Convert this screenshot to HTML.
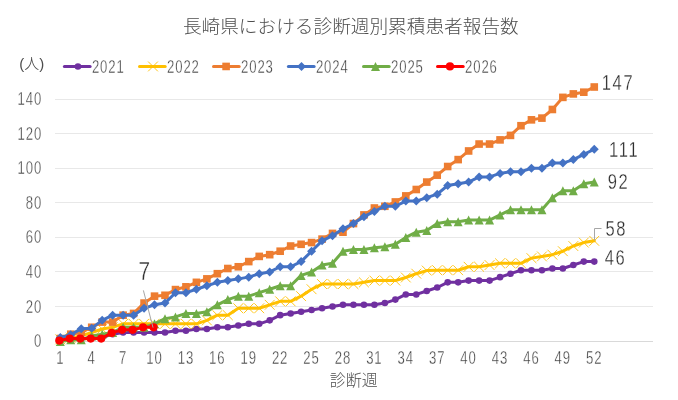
<!DOCTYPE html>
<html lang="ja">
<head>
<meta charset="utf-8">
<title>長崎県における診断週別累積患者報告数</title>
<style>
html,body{margin:0;padding:0;background:#fff;}
body{width:678px;height:400px;overflow:hidden;}
svg{display:block;}
text{font-family:"Liberation Sans","Noto Sans CJK JP",sans-serif;}
text.jp{font-family:"Liberation Sans","Noto Sans CJK JP",sans-serif;}
</style>
</head>
<body>
<svg width="678" height="400" viewBox="0 0 678 400">
<rect width="678" height="400" fill="#fff"/>
<g fill="#E8E8E8" shape-rendering="crispEdges">
<rect x="55" y="306" width="598" height="1"/>
<rect x="55" y="271" width="598" height="1"/>
<rect x="55" y="237" width="598" height="1"/>
<rect x="55" y="202" width="598" height="1"/>
<rect x="55" y="168" width="598" height="1"/>
<rect x="55" y="133" width="598" height="1"/>
<rect x="55" y="99" width="598" height="1"/>
<rect x="55" y="341" width="598" height="1" fill="#D9D9D9"/>
</g>
<text class="jp" x="350.8" y="32.6" font-size="18.67" font-weight="300" text-anchor="middle" fill="#4d4d4d">長崎県における診断週別累積患者報告数</text>
<text class="jp" x="31.8" y="68.8" font-size="15" font-weight="300" text-anchor="middle" fill="#4d4d4d">(人)</text>
<text class="n" transform="translate(42.10 347.10) scale(0.73 1)" font-size="18" letter-spacing="1.23" text-anchor="end" fill="#404040" stroke="#fff" stroke-width="0.35" paint-order="fill stroke">0</text>
<text class="n" transform="translate(42.10 312.53) scale(0.73 1)" font-size="18" letter-spacing="1.23" text-anchor="end" fill="#404040" stroke="#fff" stroke-width="0.35" paint-order="fill stroke">20</text>
<text class="n" transform="translate(42.10 277.96) scale(0.73 1)" font-size="18" letter-spacing="1.23" text-anchor="end" fill="#404040" stroke="#fff" stroke-width="0.35" paint-order="fill stroke">40</text>
<text class="n" transform="translate(42.10 243.39) scale(0.73 1)" font-size="18" letter-spacing="1.23" text-anchor="end" fill="#404040" stroke="#fff" stroke-width="0.35" paint-order="fill stroke">60</text>
<text class="n" transform="translate(42.10 208.81) scale(0.73 1)" font-size="18" letter-spacing="1.23" text-anchor="end" fill="#404040" stroke="#fff" stroke-width="0.35" paint-order="fill stroke">80</text>
<text class="n" transform="translate(42.10 174.24) scale(0.73 1)" font-size="18" letter-spacing="1.23" text-anchor="end" fill="#404040" stroke="#fff" stroke-width="0.35" paint-order="fill stroke">100</text>
<text class="n" transform="translate(42.10 139.67) scale(0.73 1)" font-size="18" letter-spacing="1.23" text-anchor="end" fill="#404040" stroke="#fff" stroke-width="0.35" paint-order="fill stroke">120</text>
<text class="n" transform="translate(42.10 105.10) scale(0.73 1)" font-size="18" letter-spacing="1.23" text-anchor="end" fill="#404040" stroke="#fff" stroke-width="0.35" paint-order="fill stroke">140</text>
<text class="n" transform="translate(60.25 363.60) scale(0.73 1)" font-size="18" letter-spacing="1.23" text-anchor="middle" fill="#404040" stroke="#fff" stroke-width="0.35" paint-order="fill stroke">1</text>
<text class="n" transform="translate(91.66 363.60) scale(0.73 1)" font-size="18" letter-spacing="1.23" text-anchor="middle" fill="#404040" stroke="#fff" stroke-width="0.35" paint-order="fill stroke">4</text>
<text class="n" transform="translate(123.07 363.60) scale(0.73 1)" font-size="18" letter-spacing="1.23" text-anchor="middle" fill="#404040" stroke="#fff" stroke-width="0.35" paint-order="fill stroke">7</text>
<text class="n" transform="translate(154.48 363.60) scale(0.73 1)" font-size="18" letter-spacing="1.23" text-anchor="middle" fill="#404040" stroke="#fff" stroke-width="0.35" paint-order="fill stroke">10</text>
<text class="n" transform="translate(185.89 363.60) scale(0.73 1)" font-size="18" letter-spacing="1.23" text-anchor="middle" fill="#404040" stroke="#fff" stroke-width="0.35" paint-order="fill stroke">13</text>
<text class="n" transform="translate(217.30 363.60) scale(0.73 1)" font-size="18" letter-spacing="1.23" text-anchor="middle" fill="#404040" stroke="#fff" stroke-width="0.35" paint-order="fill stroke">16</text>
<text class="n" transform="translate(248.71 363.60) scale(0.73 1)" font-size="18" letter-spacing="1.23" text-anchor="middle" fill="#404040" stroke="#fff" stroke-width="0.35" paint-order="fill stroke">19</text>
<text class="n" transform="translate(280.12 363.60) scale(0.73 1)" font-size="18" letter-spacing="1.23" text-anchor="middle" fill="#404040" stroke="#fff" stroke-width="0.35" paint-order="fill stroke">22</text>
<text class="n" transform="translate(311.53 363.60) scale(0.73 1)" font-size="18" letter-spacing="1.23" text-anchor="middle" fill="#404040" stroke="#fff" stroke-width="0.35" paint-order="fill stroke">25</text>
<text class="n" transform="translate(342.94 363.60) scale(0.73 1)" font-size="18" letter-spacing="1.23" text-anchor="middle" fill="#404040" stroke="#fff" stroke-width="0.35" paint-order="fill stroke">28</text>
<text class="n" transform="translate(374.35 363.60) scale(0.73 1)" font-size="18" letter-spacing="1.23" text-anchor="middle" fill="#404040" stroke="#fff" stroke-width="0.35" paint-order="fill stroke">31</text>
<text class="n" transform="translate(405.76 363.60) scale(0.73 1)" font-size="18" letter-spacing="1.23" text-anchor="middle" fill="#404040" stroke="#fff" stroke-width="0.35" paint-order="fill stroke">34</text>
<text class="n" transform="translate(437.17 363.60) scale(0.73 1)" font-size="18" letter-spacing="1.23" text-anchor="middle" fill="#404040" stroke="#fff" stroke-width="0.35" paint-order="fill stroke">37</text>
<text class="n" transform="translate(468.58 363.60) scale(0.73 1)" font-size="18" letter-spacing="1.23" text-anchor="middle" fill="#404040" stroke="#fff" stroke-width="0.35" paint-order="fill stroke">40</text>
<text class="n" transform="translate(499.99 363.60) scale(0.73 1)" font-size="18" letter-spacing="1.23" text-anchor="middle" fill="#404040" stroke="#fff" stroke-width="0.35" paint-order="fill stroke">43</text>
<text class="n" transform="translate(531.40 363.60) scale(0.73 1)" font-size="18" letter-spacing="1.23" text-anchor="middle" fill="#404040" stroke="#fff" stroke-width="0.35" paint-order="fill stroke">46</text>
<text class="n" transform="translate(562.81 363.60) scale(0.73 1)" font-size="18" letter-spacing="1.23" text-anchor="middle" fill="#404040" stroke="#fff" stroke-width="0.35" paint-order="fill stroke">49</text>
<text class="n" transform="translate(594.22 363.60) scale(0.73 1)" font-size="18" letter-spacing="1.23" text-anchor="middle" fill="#404040" stroke="#fff" stroke-width="0.35" paint-order="fill stroke">52</text>
<text class="jp" x="353.8" y="386" font-size="16" font-weight="300" text-anchor="middle" fill="#4d4d4d">診断週</text>
<line x1="64.40" y1="66.45" x2="90.10" y2="66.45" stroke="#7030A0" stroke-width="3.0" stroke-linecap="round"/>
<circle cx="77.95" cy="66.45" r="3.30" fill="#7030A0"/>
<text class="n" transform="translate(91.90 72.60) scale(0.73 1)" font-size="18" letter-spacing="1.23" text-anchor="start" fill="#404040" stroke="#fff" stroke-width="0.35" paint-order="fill stroke">2021</text>
<line x1="139.50" y1="66.45" x2="165.20" y2="66.45" stroke="#FFC000" stroke-width="3.0" stroke-linecap="round"/>
<path d="M148.10 61.55L157.90 71.35M148.10 71.35L157.90 61.55" stroke="#FFC000" stroke-width="0.9" fill="none"/>
<text class="n" transform="translate(167.00 72.60) scale(0.73 1)" font-size="18" letter-spacing="1.23" text-anchor="start" fill="#404040" stroke="#fff" stroke-width="0.35" paint-order="fill stroke">2022</text>
<line x1="213.50" y1="66.45" x2="239.20" y2="66.45" stroke="#ED7D31" stroke-width="3.0" stroke-linecap="round"/>
<rect x="222.30" y="62.65" width="7.60" height="7.60" fill="#ED7D31"/>
<text class="n" transform="translate(241.00 72.60) scale(0.73 1)" font-size="18" letter-spacing="1.23" text-anchor="start" fill="#404040" stroke="#fff" stroke-width="0.35" paint-order="fill stroke">2023</text>
<line x1="288.40" y1="66.45" x2="314.10" y2="66.45" stroke="#4472C4" stroke-width="3.0" stroke-linecap="round"/>
<path d="M301.50 61.95L306.00 66.45L301.50 70.95L297.00 66.45Z" fill="#4472C4"/>
<text class="n" transform="translate(315.90 72.60) scale(0.73 1)" font-size="18" letter-spacing="1.23" text-anchor="start" fill="#404040" stroke="#fff" stroke-width="0.35" paint-order="fill stroke">2024</text>
<line x1="363.50" y1="66.45" x2="389.20" y2="66.45" stroke="#70AD47" stroke-width="3.0" stroke-linecap="round"/>
<path d="M375.50 61.95L380.00 70.95L371.00 70.95Z" fill="#70AD47"/>
<text class="n" transform="translate(391.00 72.60) scale(0.73 1)" font-size="18" letter-spacing="1.23" text-anchor="start" fill="#404040" stroke="#fff" stroke-width="0.35" paint-order="fill stroke">2025</text>
<line x1="437.50" y1="66.45" x2="463.20" y2="66.45" stroke="#FF0000" stroke-width="3.0" stroke-linecap="round"/>
<circle cx="449.95" cy="66.45" r="4.10" fill="#FF0000"/>
<text class="n" transform="translate(465.00 72.60) scale(0.73 1)" font-size="18" letter-spacing="1.23" text-anchor="start" fill="#404040" stroke="#fff" stroke-width="0.35" paint-order="fill stroke">2026</text>
<g><polyline points="60.30,341.10 70.77,339.37 81.24,339.37 91.71,337.64 102.18,337.64 112.65,334.19 123.12,332.46 133.59,332.46 144.06,332.46 154.53,332.46 165.00,332.46 175.47,330.73 185.94,330.73 196.41,329.00 206.88,329.00 217.35,327.27 227.82,327.27 238.29,325.54 248.76,323.81 259.23,323.81 269.70,320.36 280.17,315.17 290.64,313.44 301.11,311.71 311.58,309.99 322.05,308.26 332.52,306.53 342.99,304.80 353.46,304.80 363.93,304.80 374.40,304.80 384.87,303.07 395.34,299.61 405.81,294.43 416.28,294.43 426.75,290.97 437.22,287.51 447.69,282.33 458.16,282.33 468.63,280.60 479.10,280.60 489.57,280.60 500.04,277.14 510.51,273.69 520.98,270.23 531.45,270.23 541.92,270.23 552.39,268.50 562.86,268.50 573.33,265.04 583.80,261.59 594.27,261.59" fill="none" stroke="#7030A0" stroke-width="3.0" stroke-linejoin="round" stroke-linecap="round"/>
<circle cx="60.30" cy="341.10" r="3.30" fill="#7030A0"/>
<circle cx="70.77" cy="339.37" r="3.30" fill="#7030A0"/>
<circle cx="81.24" cy="339.37" r="3.30" fill="#7030A0"/>
<circle cx="91.71" cy="337.64" r="3.30" fill="#7030A0"/>
<circle cx="102.18" cy="337.64" r="3.30" fill="#7030A0"/>
<circle cx="112.65" cy="334.19" r="3.30" fill="#7030A0"/>
<circle cx="123.12" cy="332.46" r="3.30" fill="#7030A0"/>
<circle cx="133.59" cy="332.46" r="3.30" fill="#7030A0"/>
<circle cx="144.06" cy="332.46" r="3.30" fill="#7030A0"/>
<circle cx="154.53" cy="332.46" r="3.30" fill="#7030A0"/>
<circle cx="165.00" cy="332.46" r="3.30" fill="#7030A0"/>
<circle cx="175.47" cy="330.73" r="3.30" fill="#7030A0"/>
<circle cx="185.94" cy="330.73" r="3.30" fill="#7030A0"/>
<circle cx="196.41" cy="329.00" r="3.30" fill="#7030A0"/>
<circle cx="206.88" cy="329.00" r="3.30" fill="#7030A0"/>
<circle cx="217.35" cy="327.27" r="3.30" fill="#7030A0"/>
<circle cx="227.82" cy="327.27" r="3.30" fill="#7030A0"/>
<circle cx="238.29" cy="325.54" r="3.30" fill="#7030A0"/>
<circle cx="248.76" cy="323.81" r="3.30" fill="#7030A0"/>
<circle cx="259.23" cy="323.81" r="3.30" fill="#7030A0"/>
<circle cx="269.70" cy="320.36" r="3.30" fill="#7030A0"/>
<circle cx="280.17" cy="315.17" r="3.30" fill="#7030A0"/>
<circle cx="290.64" cy="313.44" r="3.30" fill="#7030A0"/>
<circle cx="301.11" cy="311.71" r="3.30" fill="#7030A0"/>
<circle cx="311.58" cy="309.99" r="3.30" fill="#7030A0"/>
<circle cx="322.05" cy="308.26" r="3.30" fill="#7030A0"/>
<circle cx="332.52" cy="306.53" r="3.30" fill="#7030A0"/>
<circle cx="342.99" cy="304.80" r="3.30" fill="#7030A0"/>
<circle cx="353.46" cy="304.80" r="3.30" fill="#7030A0"/>
<circle cx="363.93" cy="304.80" r="3.30" fill="#7030A0"/>
<circle cx="374.40" cy="304.80" r="3.30" fill="#7030A0"/>
<circle cx="384.87" cy="303.07" r="3.30" fill="#7030A0"/>
<circle cx="395.34" cy="299.61" r="3.30" fill="#7030A0"/>
<circle cx="405.81" cy="294.43" r="3.30" fill="#7030A0"/>
<circle cx="416.28" cy="294.43" r="3.30" fill="#7030A0"/>
<circle cx="426.75" cy="290.97" r="3.30" fill="#7030A0"/>
<circle cx="437.22" cy="287.51" r="3.30" fill="#7030A0"/>
<circle cx="447.69" cy="282.33" r="3.30" fill="#7030A0"/>
<circle cx="458.16" cy="282.33" r="3.30" fill="#7030A0"/>
<circle cx="468.63" cy="280.60" r="3.30" fill="#7030A0"/>
<circle cx="479.10" cy="280.60" r="3.30" fill="#7030A0"/>
<circle cx="489.57" cy="280.60" r="3.30" fill="#7030A0"/>
<circle cx="500.04" cy="277.14" r="3.30" fill="#7030A0"/>
<circle cx="510.51" cy="273.69" r="3.30" fill="#7030A0"/>
<circle cx="520.98" cy="270.23" r="3.30" fill="#7030A0"/>
<circle cx="531.45" cy="270.23" r="3.30" fill="#7030A0"/>
<circle cx="541.92" cy="270.23" r="3.30" fill="#7030A0"/>
<circle cx="552.39" cy="268.50" r="3.30" fill="#7030A0"/>
<circle cx="562.86" cy="268.50" r="3.30" fill="#7030A0"/>
<circle cx="573.33" cy="265.04" r="3.30" fill="#7030A0"/>
<circle cx="583.80" cy="261.59" r="3.30" fill="#7030A0"/>
<circle cx="594.27" cy="261.59" r="3.30" fill="#7030A0"/>
</g>
<g><polyline points="60.30,339.37 70.77,337.64 81.24,335.91 91.71,332.46 102.18,329.00 112.65,327.27 123.12,323.81 133.59,323.81 144.06,323.81 154.53,323.81 165.00,323.81 175.47,323.81 185.94,323.81 196.41,323.81 206.88,320.36 217.35,315.17 227.82,315.17 238.29,308.26 248.76,308.26 259.23,308.26 269.70,304.80 280.17,301.34 290.64,301.34 301.11,296.16 311.58,289.24 322.05,284.06 332.52,284.06 342.99,284.06 353.46,284.06 363.93,282.33 374.40,280.60 384.87,280.60 395.34,280.60 405.81,277.49 416.28,273.69 426.75,270.57 437.22,270.23 447.69,270.23 458.16,270.23 468.63,266.77 479.10,266.77 489.57,265.04 500.04,263.31 510.51,263.31 520.98,263.31 531.45,258.13 541.92,256.40 552.39,254.67 562.86,251.21 573.33,246.03 583.80,242.57 594.27,240.84" fill="none" stroke="#FFC000" stroke-width="3.0" stroke-linejoin="round" stroke-linecap="round"/>
<path d="M55.40 334.47L65.20 344.27M55.40 344.27L65.20 334.47" stroke="#FFC000" stroke-width="0.9" fill="none"/>
<path d="M65.87 332.74L75.67 342.54M65.87 342.54L75.67 332.74" stroke="#FFC000" stroke-width="0.9" fill="none"/>
<path d="M76.34 331.01L86.14 340.81M76.34 340.81L86.14 331.01" stroke="#FFC000" stroke-width="0.9" fill="none"/>
<path d="M86.81 327.56L96.61 337.36M86.81 337.36L96.61 327.56" stroke="#FFC000" stroke-width="0.9" fill="none"/>
<path d="M97.28 324.10L107.08 333.90M97.28 333.90L107.08 324.10" stroke="#FFC000" stroke-width="0.9" fill="none"/>
<path d="M107.75 322.37L117.55 332.17M107.75 332.17L117.55 322.37" stroke="#FFC000" stroke-width="0.9" fill="none"/>
<path d="M118.22 318.91L128.02 328.71M118.22 328.71L128.02 318.91" stroke="#FFC000" stroke-width="0.9" fill="none"/>
<path d="M128.69 318.91L138.49 328.71M128.69 328.71L138.49 318.91" stroke="#FFC000" stroke-width="0.9" fill="none"/>
<path d="M139.16 318.91L148.96 328.71M139.16 328.71L148.96 318.91" stroke="#FFC000" stroke-width="0.9" fill="none"/>
<path d="M149.63 318.91L159.43 328.71M149.63 328.71L159.43 318.91" stroke="#FFC000" stroke-width="0.9" fill="none"/>
<path d="M160.10 318.91L169.90 328.71M160.10 328.71L169.90 318.91" stroke="#FFC000" stroke-width="0.9" fill="none"/>
<path d="M170.57 318.91L180.37 328.71M170.57 328.71L180.37 318.91" stroke="#FFC000" stroke-width="0.9" fill="none"/>
<path d="M181.04 318.91L190.84 328.71M181.04 328.71L190.84 318.91" stroke="#FFC000" stroke-width="0.9" fill="none"/>
<path d="M191.51 318.91L201.31 328.71M191.51 328.71L201.31 318.91" stroke="#FFC000" stroke-width="0.9" fill="none"/>
<path d="M201.98 315.46L211.78 325.26M201.98 325.26L211.78 315.46" stroke="#FFC000" stroke-width="0.9" fill="none"/>
<path d="M212.45 310.27L222.25 320.07M212.45 320.07L222.25 310.27" stroke="#FFC000" stroke-width="0.9" fill="none"/>
<path d="M222.92 310.27L232.72 320.07M222.92 320.07L232.72 310.27" stroke="#FFC000" stroke-width="0.9" fill="none"/>
<path d="M233.39 303.36L243.19 313.16M233.39 313.16L243.19 303.36" stroke="#FFC000" stroke-width="0.9" fill="none"/>
<path d="M243.86 303.36L253.66 313.16M243.86 313.16L253.66 303.36" stroke="#FFC000" stroke-width="0.9" fill="none"/>
<path d="M254.33 303.36L264.13 313.16M254.33 313.16L264.13 303.36" stroke="#FFC000" stroke-width="0.9" fill="none"/>
<path d="M264.80 299.90L274.60 309.70M264.80 309.70L274.60 299.90" stroke="#FFC000" stroke-width="0.9" fill="none"/>
<path d="M275.27 296.44L285.07 306.24M275.27 306.24L285.07 296.44" stroke="#FFC000" stroke-width="0.9" fill="none"/>
<path d="M285.74 296.44L295.54 306.24M285.74 306.24L295.54 296.44" stroke="#FFC000" stroke-width="0.9" fill="none"/>
<path d="M296.21 291.26L306.01 301.06M296.21 301.06L306.01 291.26" stroke="#FFC000" stroke-width="0.9" fill="none"/>
<path d="M306.68 284.34L316.48 294.14M306.68 294.14L316.48 284.34" stroke="#FFC000" stroke-width="0.9" fill="none"/>
<path d="M317.15 279.16L326.95 288.96M317.15 288.96L326.95 279.16" stroke="#FFC000" stroke-width="0.9" fill="none"/>
<path d="M327.62 279.16L337.42 288.96M327.62 288.96L337.42 279.16" stroke="#FFC000" stroke-width="0.9" fill="none"/>
<path d="M338.09 279.16L347.89 288.96M338.09 288.96L347.89 279.16" stroke="#FFC000" stroke-width="0.9" fill="none"/>
<path d="M348.56 279.16L358.36 288.96M348.56 288.96L358.36 279.16" stroke="#FFC000" stroke-width="0.9" fill="none"/>
<path d="M359.03 277.43L368.83 287.23M359.03 287.23L368.83 277.43" stroke="#FFC000" stroke-width="0.9" fill="none"/>
<path d="M369.50 275.70L379.30 285.50M369.50 285.50L379.30 275.70" stroke="#FFC000" stroke-width="0.9" fill="none"/>
<path d="M379.97 275.70L389.77 285.50M379.97 285.50L389.77 275.70" stroke="#FFC000" stroke-width="0.9" fill="none"/>
<path d="M390.44 275.70L400.24 285.50M390.44 285.50L400.24 275.70" stroke="#FFC000" stroke-width="0.9" fill="none"/>
<path d="M400.91 272.59L410.71 282.39M400.91 282.39L410.71 272.59" stroke="#FFC000" stroke-width="0.9" fill="none"/>
<path d="M411.38 268.79L421.18 278.59M411.38 278.59L421.18 268.79" stroke="#FFC000" stroke-width="0.9" fill="none"/>
<path d="M421.85 265.67L431.65 275.47M421.85 275.47L431.65 265.67" stroke="#FFC000" stroke-width="0.9" fill="none"/>
<path d="M432.32 265.33L442.12 275.13M432.32 275.13L442.12 265.33" stroke="#FFC000" stroke-width="0.9" fill="none"/>
<path d="M442.79 265.33L452.59 275.13M442.79 275.13L452.59 265.33" stroke="#FFC000" stroke-width="0.9" fill="none"/>
<path d="M453.26 265.33L463.06 275.13M453.26 275.13L463.06 265.33" stroke="#FFC000" stroke-width="0.9" fill="none"/>
<path d="M463.73 261.87L473.53 271.67M463.73 271.67L473.53 261.87" stroke="#FFC000" stroke-width="0.9" fill="none"/>
<path d="M474.20 261.87L484.00 271.67M474.20 271.67L484.00 261.87" stroke="#FFC000" stroke-width="0.9" fill="none"/>
<path d="M484.67 260.14L494.47 269.94M484.67 269.94L494.47 260.14" stroke="#FFC000" stroke-width="0.9" fill="none"/>
<path d="M495.14 258.41L504.94 268.21M495.14 268.21L504.94 258.41" stroke="#FFC000" stroke-width="0.9" fill="none"/>
<path d="M505.61 258.41L515.41 268.21M505.61 268.21L515.41 258.41" stroke="#FFC000" stroke-width="0.9" fill="none"/>
<path d="M516.08 258.41L525.88 268.21M516.08 268.21L525.88 258.41" stroke="#FFC000" stroke-width="0.9" fill="none"/>
<path d="M526.55 253.23L536.35 263.03M526.55 263.03L536.35 253.23" stroke="#FFC000" stroke-width="0.9" fill="none"/>
<path d="M537.02 251.50L546.82 261.30M537.02 261.30L546.82 251.50" stroke="#FFC000" stroke-width="0.9" fill="none"/>
<path d="M547.49 249.77L557.29 259.57M547.49 259.57L557.29 249.77" stroke="#FFC000" stroke-width="0.9" fill="none"/>
<path d="M557.96 246.31L567.76 256.11M557.96 256.11L567.76 246.31" stroke="#FFC000" stroke-width="0.9" fill="none"/>
<path d="M568.43 241.13L578.23 250.93M568.43 250.93L578.23 241.13" stroke="#FFC000" stroke-width="0.9" fill="none"/>
<path d="M578.90 237.67L588.70 247.47M578.90 247.47L588.70 237.67" stroke="#FFC000" stroke-width="0.9" fill="none"/>
<path d="M589.37 235.94L599.17 245.74M589.37 245.74L599.17 235.94" stroke="#FFC000" stroke-width="0.9" fill="none"/>
</g>
<g><polyline points="60.30,338.51 70.77,334.19 81.24,332.46 91.71,327.27 102.18,322.09 112.65,322.09 123.12,315.17 133.59,313.44 144.06,303.07 154.53,296.16 165.00,295.29 175.47,289.59 185.94,286.82 196.41,282.33 206.88,278.87 217.35,273.69 227.82,268.50 238.29,266.77 248.76,261.59 259.23,256.40 269.70,254.67 280.17,251.21 290.64,246.03 301.11,244.30 311.58,242.57 322.05,239.11 332.52,233.41 342.99,232.20 353.46,223.56 363.93,214.91 374.40,208.00 384.87,206.27 395.34,201.95 405.81,195.90 416.28,189.50 426.75,182.07 437.22,175.16 447.69,166.51 458.16,159.60 468.63,150.96 479.10,144.04 489.57,144.04 500.04,139.89 510.51,135.40 520.98,125.72 531.45,119.84 541.92,118.11 552.39,109.47 562.86,97.37 573.33,93.91 583.80,92.19 594.27,87.00" fill="none" stroke="#ED7D31" stroke-width="3.0" stroke-linejoin="round" stroke-linecap="round"/>
<rect x="56.50" y="334.71" width="7.60" height="7.60" fill="#ED7D31"/>
<rect x="66.97" y="330.39" width="7.60" height="7.60" fill="#ED7D31"/>
<rect x="77.44" y="328.66" width="7.60" height="7.60" fill="#ED7D31"/>
<rect x="87.91" y="323.47" width="7.60" height="7.60" fill="#ED7D31"/>
<rect x="98.38" y="318.29" width="7.60" height="7.60" fill="#ED7D31"/>
<rect x="108.85" y="318.29" width="7.60" height="7.60" fill="#ED7D31"/>
<rect x="119.32" y="311.37" width="7.60" height="7.60" fill="#ED7D31"/>
<rect x="129.79" y="309.64" width="7.60" height="7.60" fill="#ED7D31"/>
<rect x="140.26" y="299.27" width="7.60" height="7.60" fill="#ED7D31"/>
<rect x="150.73" y="292.36" width="7.60" height="7.60" fill="#ED7D31"/>
<rect x="161.20" y="291.49" width="7.60" height="7.60" fill="#ED7D31"/>
<rect x="171.67" y="285.79" width="7.60" height="7.60" fill="#ED7D31"/>
<rect x="182.14" y="283.02" width="7.60" height="7.60" fill="#ED7D31"/>
<rect x="192.61" y="278.53" width="7.60" height="7.60" fill="#ED7D31"/>
<rect x="203.08" y="275.07" width="7.60" height="7.60" fill="#ED7D31"/>
<rect x="213.55" y="269.89" width="7.60" height="7.60" fill="#ED7D31"/>
<rect x="224.02" y="264.70" width="7.60" height="7.60" fill="#ED7D31"/>
<rect x="234.49" y="262.97" width="7.60" height="7.60" fill="#ED7D31"/>
<rect x="244.96" y="257.79" width="7.60" height="7.60" fill="#ED7D31"/>
<rect x="255.43" y="252.60" width="7.60" height="7.60" fill="#ED7D31"/>
<rect x="265.90" y="250.87" width="7.60" height="7.60" fill="#ED7D31"/>
<rect x="276.37" y="247.41" width="7.60" height="7.60" fill="#ED7D31"/>
<rect x="286.84" y="242.23" width="7.60" height="7.60" fill="#ED7D31"/>
<rect x="297.31" y="240.50" width="7.60" height="7.60" fill="#ED7D31"/>
<rect x="307.78" y="238.77" width="7.60" height="7.60" fill="#ED7D31"/>
<rect x="318.25" y="235.31" width="7.60" height="7.60" fill="#ED7D31"/>
<rect x="328.72" y="229.61" width="7.60" height="7.60" fill="#ED7D31"/>
<rect x="339.19" y="228.40" width="7.60" height="7.60" fill="#ED7D31"/>
<rect x="349.66" y="219.76" width="7.60" height="7.60" fill="#ED7D31"/>
<rect x="360.13" y="211.11" width="7.60" height="7.60" fill="#ED7D31"/>
<rect x="370.60" y="204.20" width="7.60" height="7.60" fill="#ED7D31"/>
<rect x="381.07" y="202.47" width="7.60" height="7.60" fill="#ED7D31"/>
<rect x="391.54" y="198.15" width="7.60" height="7.60" fill="#ED7D31"/>
<rect x="402.01" y="192.10" width="7.60" height="7.60" fill="#ED7D31"/>
<rect x="412.48" y="185.70" width="7.60" height="7.60" fill="#ED7D31"/>
<rect x="422.95" y="178.27" width="7.60" height="7.60" fill="#ED7D31"/>
<rect x="433.42" y="171.36" width="7.60" height="7.60" fill="#ED7D31"/>
<rect x="443.89" y="162.71" width="7.60" height="7.60" fill="#ED7D31"/>
<rect x="454.36" y="155.80" width="7.60" height="7.60" fill="#ED7D31"/>
<rect x="464.83" y="147.16" width="7.60" height="7.60" fill="#ED7D31"/>
<rect x="475.30" y="140.24" width="7.60" height="7.60" fill="#ED7D31"/>
<rect x="485.77" y="140.24" width="7.60" height="7.60" fill="#ED7D31"/>
<rect x="496.24" y="136.09" width="7.60" height="7.60" fill="#ED7D31"/>
<rect x="506.71" y="131.60" width="7.60" height="7.60" fill="#ED7D31"/>
<rect x="517.18" y="121.92" width="7.60" height="7.60" fill="#ED7D31"/>
<rect x="527.65" y="116.04" width="7.60" height="7.60" fill="#ED7D31"/>
<rect x="538.12" y="114.31" width="7.60" height="7.60" fill="#ED7D31"/>
<rect x="548.59" y="105.67" width="7.60" height="7.60" fill="#ED7D31"/>
<rect x="559.06" y="93.57" width="7.60" height="7.60" fill="#ED7D31"/>
<rect x="569.53" y="90.11" width="7.60" height="7.60" fill="#ED7D31"/>
<rect x="580.00" y="88.39" width="7.60" height="7.60" fill="#ED7D31"/>
<rect x="590.47" y="83.20" width="7.60" height="7.60" fill="#ED7D31"/>
</g>
<g><polyline points="60.30,337.47 70.77,334.70 81.24,328.65 91.71,328.14 102.18,320.36 112.65,315.17 123.12,315.17 133.59,315.17 144.06,308.26 154.53,304.80 165.00,303.07 175.47,292.70 185.94,292.70 196.41,289.24 206.88,285.79 217.35,282.33 227.82,280.60 238.29,278.87 248.76,277.14 259.23,273.69 269.70,271.96 280.17,266.77 290.64,266.77 301.11,261.59 311.58,251.21 322.05,240.84 332.52,235.66 342.99,228.74 353.46,223.56 363.93,216.64 374.40,211.46 384.87,206.27 395.34,206.27 405.81,201.09 416.28,201.09 426.75,197.63 437.22,194.17 447.69,185.53 458.16,183.80 468.63,182.07 479.10,176.89 489.57,176.89 500.04,173.43 510.51,171.70 520.98,171.70 531.45,168.24 541.92,168.24 552.39,163.06 562.86,163.06 573.33,159.60 583.80,154.41 594.27,149.23" fill="none" stroke="#4472C4" stroke-width="3.0" stroke-linejoin="round" stroke-linecap="round"/>
<path d="M60.30 332.97L64.80 337.47L60.30 341.97L55.80 337.47Z" fill="#4472C4"/>
<path d="M70.77 330.20L75.27 334.70L70.77 339.20L66.27 334.70Z" fill="#4472C4"/>
<path d="M81.24 324.15L85.74 328.65L81.24 333.15L76.74 328.65Z" fill="#4472C4"/>
<path d="M91.71 323.64L96.21 328.14L91.71 332.64L87.21 328.14Z" fill="#4472C4"/>
<path d="M102.18 315.86L106.68 320.36L102.18 324.86L97.68 320.36Z" fill="#4472C4"/>
<path d="M112.65 310.67L117.15 315.17L112.65 319.67L108.15 315.17Z" fill="#4472C4"/>
<path d="M123.12 310.67L127.62 315.17L123.12 319.67L118.62 315.17Z" fill="#4472C4"/>
<path d="M133.59 310.67L138.09 315.17L133.59 319.67L129.09 315.17Z" fill="#4472C4"/>
<path d="M144.06 303.76L148.56 308.26L144.06 312.76L139.56 308.26Z" fill="#4472C4"/>
<path d="M154.53 300.30L159.03 304.80L154.53 309.30L150.03 304.80Z" fill="#4472C4"/>
<path d="M165.00 298.57L169.50 303.07L165.00 307.57L160.50 303.07Z" fill="#4472C4"/>
<path d="M175.47 288.20L179.97 292.70L175.47 297.20L170.97 292.70Z" fill="#4472C4"/>
<path d="M185.94 288.20L190.44 292.70L185.94 297.20L181.44 292.70Z" fill="#4472C4"/>
<path d="M196.41 284.74L200.91 289.24L196.41 293.74L191.91 289.24Z" fill="#4472C4"/>
<path d="M206.88 281.29L211.38 285.79L206.88 290.29L202.38 285.79Z" fill="#4472C4"/>
<path d="M217.35 277.83L221.85 282.33L217.35 286.83L212.85 282.33Z" fill="#4472C4"/>
<path d="M227.82 276.10L232.32 280.60L227.82 285.10L223.32 280.60Z" fill="#4472C4"/>
<path d="M238.29 274.37L242.79 278.87L238.29 283.37L233.79 278.87Z" fill="#4472C4"/>
<path d="M248.76 272.64L253.26 277.14L248.76 281.64L244.26 277.14Z" fill="#4472C4"/>
<path d="M259.23 269.19L263.73 273.69L259.23 278.19L254.73 273.69Z" fill="#4472C4"/>
<path d="M269.70 267.46L274.20 271.96L269.70 276.46L265.20 271.96Z" fill="#4472C4"/>
<path d="M280.17 262.27L284.67 266.77L280.17 271.27L275.67 266.77Z" fill="#4472C4"/>
<path d="M290.64 262.27L295.14 266.77L290.64 271.27L286.14 266.77Z" fill="#4472C4"/>
<path d="M301.11 257.09L305.61 261.59L301.11 266.09L296.61 261.59Z" fill="#4472C4"/>
<path d="M311.58 246.71L316.08 251.21L311.58 255.71L307.08 251.21Z" fill="#4472C4"/>
<path d="M322.05 236.34L326.55 240.84L322.05 245.34L317.55 240.84Z" fill="#4472C4"/>
<path d="M332.52 231.16L337.02 235.66L332.52 240.16L328.02 235.66Z" fill="#4472C4"/>
<path d="M342.99 224.24L347.49 228.74L342.99 233.24L338.49 228.74Z" fill="#4472C4"/>
<path d="M353.46 219.06L357.96 223.56L353.46 228.06L348.96 223.56Z" fill="#4472C4"/>
<path d="M363.93 212.14L368.43 216.64L363.93 221.14L359.43 216.64Z" fill="#4472C4"/>
<path d="M374.40 206.96L378.90 211.46L374.40 215.96L369.90 211.46Z" fill="#4472C4"/>
<path d="M384.87 201.77L389.37 206.27L384.87 210.77L380.37 206.27Z" fill="#4472C4"/>
<path d="M395.34 201.77L399.84 206.27L395.34 210.77L390.84 206.27Z" fill="#4472C4"/>
<path d="M405.81 196.59L410.31 201.09L405.81 205.59L401.31 201.09Z" fill="#4472C4"/>
<path d="M416.28 196.59L420.78 201.09L416.28 205.59L411.78 201.09Z" fill="#4472C4"/>
<path d="M426.75 193.13L431.25 197.63L426.75 202.13L422.25 197.63Z" fill="#4472C4"/>
<path d="M437.22 189.67L441.72 194.17L437.22 198.67L432.72 194.17Z" fill="#4472C4"/>
<path d="M447.69 181.03L452.19 185.53L447.69 190.03L443.19 185.53Z" fill="#4472C4"/>
<path d="M458.16 179.30L462.66 183.80L458.16 188.30L453.66 183.80Z" fill="#4472C4"/>
<path d="M468.63 177.57L473.13 182.07L468.63 186.57L464.13 182.07Z" fill="#4472C4"/>
<path d="M479.10 172.39L483.60 176.89L479.10 181.39L474.60 176.89Z" fill="#4472C4"/>
<path d="M489.57 172.39L494.07 176.89L489.57 181.39L485.07 176.89Z" fill="#4472C4"/>
<path d="M500.04 168.93L504.54 173.43L500.04 177.93L495.54 173.43Z" fill="#4472C4"/>
<path d="M510.51 167.20L515.01 171.70L510.51 176.20L506.01 171.70Z" fill="#4472C4"/>
<path d="M520.98 167.20L525.48 171.70L520.98 176.20L516.48 171.70Z" fill="#4472C4"/>
<path d="M531.45 163.74L535.95 168.24L531.45 172.74L526.95 168.24Z" fill="#4472C4"/>
<path d="M541.92 163.74L546.42 168.24L541.92 172.74L537.42 168.24Z" fill="#4472C4"/>
<path d="M552.39 158.56L556.89 163.06L552.39 167.56L547.89 163.06Z" fill="#4472C4"/>
<path d="M562.86 158.56L567.36 163.06L562.86 167.56L558.36 163.06Z" fill="#4472C4"/>
<path d="M573.33 155.10L577.83 159.60L573.33 164.10L568.83 159.60Z" fill="#4472C4"/>
<path d="M583.80 149.91L588.30 154.41L583.80 158.91L579.30 154.41Z" fill="#4472C4"/>
<path d="M594.27 144.73L598.77 149.23L594.27 153.73L589.77 149.23Z" fill="#4472C4"/>
</g>
<g><polyline points="60.30,341.45 70.77,339.72 81.24,339.72 91.71,335.91 102.18,334.19 112.65,332.46 123.12,327.27 133.59,327.27 144.06,327.27 154.53,323.81 165.00,318.63 175.47,316.90 185.94,313.44 196.41,313.44 206.88,311.71 217.35,304.80 227.82,299.61 238.29,296.16 248.76,296.16 259.23,292.70 269.70,289.24 280.17,285.79 290.64,285.79 301.11,275.41 311.58,271.96 322.05,265.04 332.52,263.31 342.99,251.21 353.46,249.49 363.93,249.49 374.40,247.76 384.87,246.72 395.34,244.30 405.81,237.39 416.28,232.20 426.75,230.47 437.22,223.56 447.69,221.83 458.16,221.83 468.63,220.10 479.10,220.10 489.57,220.10 500.04,214.91 510.51,209.73 520.98,209.73 531.45,209.73 541.92,209.73 552.39,197.63 562.86,190.71 573.33,190.71 583.80,183.80 594.27,182.07" fill="none" stroke="#70AD47" stroke-width="3.0" stroke-linejoin="round" stroke-linecap="round"/>
<path d="M60.30 336.95L64.80 345.95L55.80 345.95Z" fill="#70AD47"/>
<path d="M70.77 335.22L75.27 344.22L66.27 344.22Z" fill="#70AD47"/>
<path d="M81.24 335.22L85.74 344.22L76.74 344.22Z" fill="#70AD47"/>
<path d="M91.71 331.41L96.21 340.41L87.21 340.41Z" fill="#70AD47"/>
<path d="M102.18 329.69L106.68 338.69L97.68 338.69Z" fill="#70AD47"/>
<path d="M112.65 327.96L117.15 336.96L108.15 336.96Z" fill="#70AD47"/>
<path d="M123.12 322.77L127.62 331.77L118.62 331.77Z" fill="#70AD47"/>
<path d="M133.59 322.77L138.09 331.77L129.09 331.77Z" fill="#70AD47"/>
<path d="M144.06 322.77L148.56 331.77L139.56 331.77Z" fill="#70AD47"/>
<path d="M154.53 319.31L159.03 328.31L150.03 328.31Z" fill="#70AD47"/>
<path d="M165.00 314.13L169.50 323.13L160.50 323.13Z" fill="#70AD47"/>
<path d="M175.47 312.40L179.97 321.40L170.97 321.40Z" fill="#70AD47"/>
<path d="M185.94 308.94L190.44 317.94L181.44 317.94Z" fill="#70AD47"/>
<path d="M196.41 308.94L200.91 317.94L191.91 317.94Z" fill="#70AD47"/>
<path d="M206.88 307.21L211.38 316.21L202.38 316.21Z" fill="#70AD47"/>
<path d="M217.35 300.30L221.85 309.30L212.85 309.30Z" fill="#70AD47"/>
<path d="M227.82 295.11L232.32 304.11L223.32 304.11Z" fill="#70AD47"/>
<path d="M238.29 291.66L242.79 300.66L233.79 300.66Z" fill="#70AD47"/>
<path d="M248.76 291.66L253.26 300.66L244.26 300.66Z" fill="#70AD47"/>
<path d="M259.23 288.20L263.73 297.20L254.73 297.20Z" fill="#70AD47"/>
<path d="M269.70 284.74L274.20 293.74L265.20 293.74Z" fill="#70AD47"/>
<path d="M280.17 281.29L284.67 290.29L275.67 290.29Z" fill="#70AD47"/>
<path d="M290.64 281.29L295.14 290.29L286.14 290.29Z" fill="#70AD47"/>
<path d="M301.11 270.91L305.61 279.91L296.61 279.91Z" fill="#70AD47"/>
<path d="M311.58 267.46L316.08 276.46L307.08 276.46Z" fill="#70AD47"/>
<path d="M322.05 260.54L326.55 269.54L317.55 269.54Z" fill="#70AD47"/>
<path d="M332.52 258.81L337.02 267.81L328.02 267.81Z" fill="#70AD47"/>
<path d="M342.99 246.71L347.49 255.71L338.49 255.71Z" fill="#70AD47"/>
<path d="M353.46 244.99L357.96 253.99L348.96 253.99Z" fill="#70AD47"/>
<path d="M363.93 244.99L368.43 253.99L359.43 253.99Z" fill="#70AD47"/>
<path d="M374.40 243.26L378.90 252.26L369.90 252.26Z" fill="#70AD47"/>
<path d="M384.87 242.22L389.37 251.22L380.37 251.22Z" fill="#70AD47"/>
<path d="M395.34 239.80L399.84 248.80L390.84 248.80Z" fill="#70AD47"/>
<path d="M405.81 232.89L410.31 241.89L401.31 241.89Z" fill="#70AD47"/>
<path d="M416.28 227.70L420.78 236.70L411.78 236.70Z" fill="#70AD47"/>
<path d="M426.75 225.97L431.25 234.97L422.25 234.97Z" fill="#70AD47"/>
<path d="M437.22 219.06L441.72 228.06L432.72 228.06Z" fill="#70AD47"/>
<path d="M447.69 217.33L452.19 226.33L443.19 226.33Z" fill="#70AD47"/>
<path d="M458.16 217.33L462.66 226.33L453.66 226.33Z" fill="#70AD47"/>
<path d="M468.63 215.60L473.13 224.60L464.13 224.60Z" fill="#70AD47"/>
<path d="M479.10 215.60L483.60 224.60L474.60 224.60Z" fill="#70AD47"/>
<path d="M489.57 215.60L494.07 224.60L485.07 224.60Z" fill="#70AD47"/>
<path d="M500.04 210.41L504.54 219.41L495.54 219.41Z" fill="#70AD47"/>
<path d="M510.51 205.23L515.01 214.23L506.01 214.23Z" fill="#70AD47"/>
<path d="M520.98 205.23L525.48 214.23L516.48 214.23Z" fill="#70AD47"/>
<path d="M531.45 205.23L535.95 214.23L526.95 214.23Z" fill="#70AD47"/>
<path d="M541.92 205.23L546.42 214.23L537.42 214.23Z" fill="#70AD47"/>
<path d="M552.39 193.13L556.89 202.13L547.89 202.13Z" fill="#70AD47"/>
<path d="M562.86 186.21L567.36 195.21L558.36 195.21Z" fill="#70AD47"/>
<path d="M573.33 186.21L577.83 195.21L568.83 195.21Z" fill="#70AD47"/>
<path d="M583.80 179.30L588.30 188.30L579.30 188.30Z" fill="#70AD47"/>
<path d="M594.27 177.57L598.77 186.57L589.77 186.57Z" fill="#70AD47"/>
</g>
<g><polyline points="59.30,340.58 69.77,338.59 80.24,338.59 90.71,338.59 101.18,338.59 111.65,332.89 122.12,329.86 132.59,329.86 143.06,327.36 153.53,327.36" fill="none" stroke="#FF0000" stroke-width="3.0" stroke-linejoin="round" stroke-linecap="round"/>
<circle cx="59.30" cy="340.58" r="4.10" fill="#FF0000"/>
<circle cx="69.77" cy="338.59" r="4.10" fill="#FF0000"/>
<circle cx="80.24" cy="338.59" r="4.10" fill="#FF0000"/>
<circle cx="90.71" cy="338.59" r="4.10" fill="#FF0000"/>
<circle cx="101.18" cy="338.59" r="4.10" fill="#FF0000"/>
<circle cx="111.65" cy="332.89" r="4.10" fill="#FF0000"/>
<circle cx="122.12" cy="329.86" r="4.10" fill="#FF0000"/>
<circle cx="132.59" cy="329.86" r="4.10" fill="#FF0000"/>
<circle cx="143.06" cy="327.36" r="4.10" fill="#FF0000"/>
<circle cx="153.53" cy="327.36" r="4.10" fill="#FF0000"/>
</g>
<path d="M143.4 290.4L153.0 327.6" stroke="#A6A6A6" stroke-width="1" fill="none"/>
<path d="M594.5 240.5V228.5H601.5" stroke="#A6A6A6" stroke-width="1" fill="none"/>
<text class="n" transform="translate(618.05 89.90) scale(0.77 1)" font-size="21.5" letter-spacing="2.21" text-anchor="middle" fill="#2e2e2e" stroke="#fff" stroke-width="0.3" paint-order="fill stroke">147</text>
<text class="n" transform="translate(624.25 156.90) scale(0.77 1)" font-size="21.5" letter-spacing="2.21" text-anchor="middle" fill="#2e2e2e" stroke="#fff" stroke-width="0.3" paint-order="fill stroke">111</text>
<text class="n" transform="translate(618.55 188.90) scale(0.77 1)" font-size="21.5" letter-spacing="2.21" text-anchor="middle" fill="#2e2e2e" stroke="#fff" stroke-width="0.3" paint-order="fill stroke">92</text>
<text class="n" transform="translate(616.35 235.90) scale(0.77 1)" font-size="21.5" letter-spacing="2.21" text-anchor="middle" fill="#2e2e2e" stroke="#fff" stroke-width="0.3" paint-order="fill stroke">58</text>
<text class="n" transform="translate(615.55 264.90) scale(0.77 1)" font-size="21.5" letter-spacing="2.21" text-anchor="middle" fill="#2e2e2e" stroke="#fff" stroke-width="0.3" paint-order="fill stroke">46</text>
<text class="n" transform="translate(144.20 280.20) scale(0.82 1)" font-size="25.5" letter-spacing="0.00" text-anchor="middle" fill="#303030" stroke="#fff" stroke-width="0.35" paint-order="fill stroke">7</text>
</svg>
</body>
</html>
